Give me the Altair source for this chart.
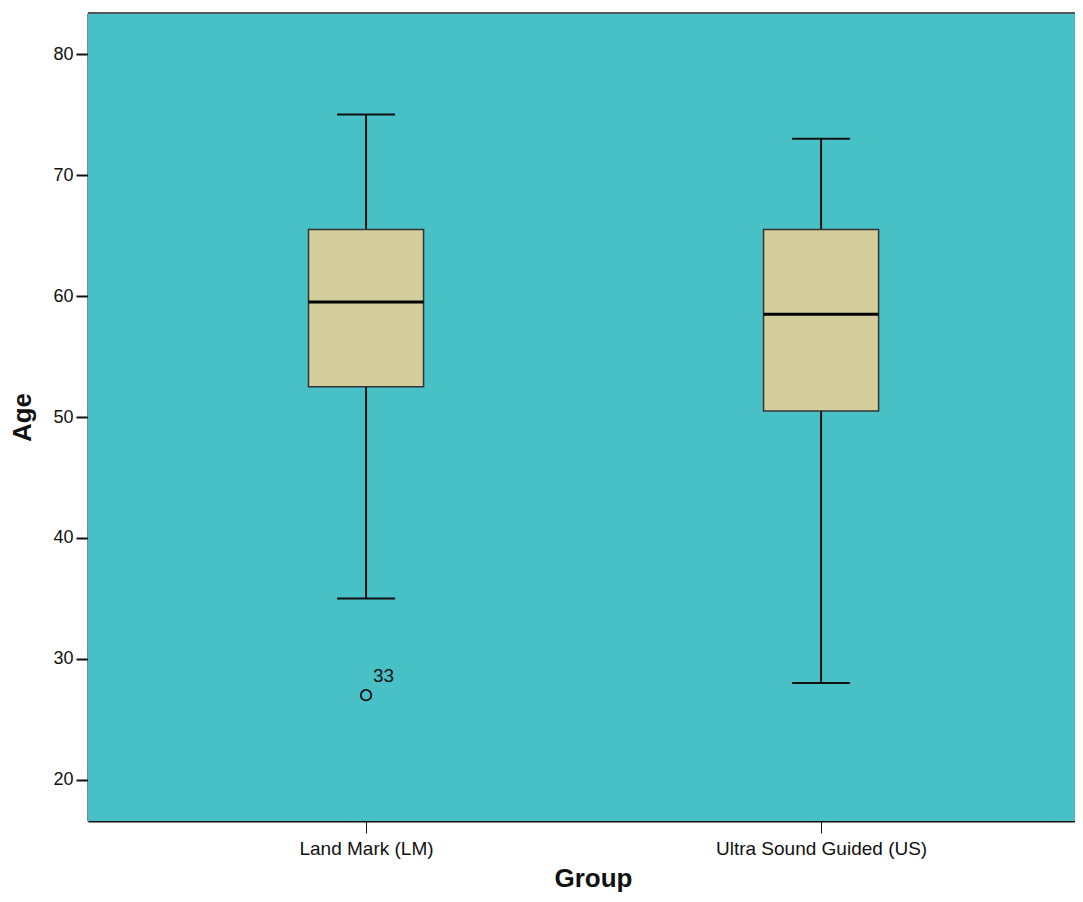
import altair as alt
import pandas as pd

# ---- data ----
groups = ["Land Mark (LM)", "Ultra Sound Guided (US)"]
positions = [0, 1]
lower_whisker = [35, 28]
q1 = [52.5, 50.5]
median = [59.5, 58.5]
q3 = [65.5, 65.5]
upper_whisker = [75, 73]

outlier_pos = [0]
outlier_value = [27]
outlier_label = ["33"]

y_ticks = [20, 30, 40, 50, 60, 70, 80]

# ---- styling constants ----
TEAL = "#48C1C6"
BOX = "#D3CE9B"
LINE = "#111111"
FONT = "Liberation Sans"
W, H = 987, 808
BOX_HALF = 0.1264
CAP_HALF = 0.0637

df = pd.DataFrame({
    "group": groups, "pos": positions, "lo": lower_whisker, "q1": q1,
    "med": median, "q3": q3, "hi": upper_whisker,
})
out_df = pd.DataFrame({"pos": outlier_pos, "val": outlier_value, "lab": outlier_label})

label_expr = "datum.value == 0 ? '" + groups[0] + "' : '" + groups[1] + "'"

xscale = alt.Scale(domain=[-0.611, 1.558], nice=False, zero=False)
yscale = alt.Scale(domain=[16.6, 83.4], nice=False, zero=False)

xaxis = alt.Axis(
    values=positions, labelExpr=label_expr, title="Group", grid=False,
    tickSize=12, labelPadding=6, tickColor=LINE, tickWidth=1, labelLimit=600,
    domainColor=LINE, domainWidth=2, labelFont=FONT, labelFontSize=19,
    labelColor="#111", titleFont=FONT, titleFontSize=26, titleFontWeight="bold",
    titleColor="#111", titleX=505, titleY=57, titleBaseline="middle",
    titleAnchor="start", titleAlign="center",
)
yaxis = alt.Axis(
    values=y_ticks, title="Age", grid=False, tickSize=12, labelPadding=3,
    tickColor=LINE, tickWidth=2, domainColor=LINE, domainWidth=2,
    labelFont=FONT, labelFontSize=18, labelColor="#111", titleFont=FONT,
    titleFontSize=26, titleFontWeight="bold", titleColor="#111",
    titleX=-66, titleY=404, titleAngle=-90, titleAlign="center",
    titleBaseline="middle", titleAnchor="start",
)

bg = alt.Chart(pd.DataFrame({"a": [0]})).mark_rect(fill=TEAL).encode(
    x=alt.value(0), x2=alt.value(W), y=alt.value(0), y2=alt.value(H))

base = alt.Chart(df).transform_calculate(
    bx1=f"datum.pos - {BOX_HALF}", bx2=f"datum.pos + {BOX_HALF}",
    cx1=f"datum.pos - {CAP_HALF}", cx2=f"datum.pos + {CAP_HALF}",
)

whisk_up = base.mark_rule(color=LINE, strokeWidth=2).encode(
    x=alt.X("pos:Q", scale=xscale, axis=xaxis),
    y=alt.Y("q3:Q", scale=yscale, axis=yaxis), y2="hi:Q")
whisk_lo = base.mark_rule(color=LINE, strokeWidth=2).encode(
    x="pos:Q", y="lo:Q", y2="q1:Q")
cap_hi = base.mark_rule(color=LINE, strokeWidth=2).encode(
    x="cx1:Q", x2="cx2:Q", y="hi:Q")
cap_lo = base.mark_rule(color=LINE, strokeWidth=2).encode(
    x="cx1:Q", x2="cx2:Q", y="lo:Q")
box = base.mark_rect(fill=BOX, stroke="#333333", strokeWidth=1.5).encode(
    x="bx1:Q", x2="bx2:Q", y="q1:Q", y2="q3:Q")
med = base.mark_rule(color="#000000", strokeWidth=3).encode(
    x="bx1:Q", x2="bx2:Q", y="med:Q")

pts = alt.Chart(out_df).mark_point(
    shape="circle", size=110, filled=False, color=LINE, strokeWidth=1.8, opacity=1
).encode(x="pos:Q", y="val:Q")
txt = alt.Chart(out_df).mark_text(
    align="left", baseline="alphabetic", dx=7, dy=-13, font=FONT, fontSize=19, color="#111"
).encode(x="pos:Q", y="val:Q", text="lab:N")

top_border = alt.Chart(pd.DataFrame({"a": [0]})).mark_rule(
    color="#555555", strokeWidth=2
).encode(x=alt.value(0), x2=alt.value(W), y=alt.value(0))

chart = alt.layer(
    bg, whisk_up, whisk_lo, cap_hi, cap_lo, box, med, pts, txt, top_border
).properties(
    width=W, height=H,
    autosize=alt.AutoSizeParams(type="none"),
    padding={"left": 80, "top": 5, "right": 0, "bottom": 73},
).configure_view(stroke=None).configure(background="white")

chart.save("out.html", embed_options={"renderer": "svg", "actions": False})
